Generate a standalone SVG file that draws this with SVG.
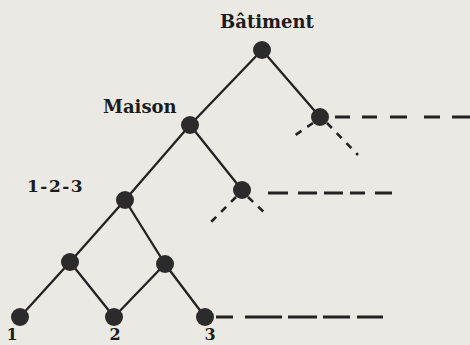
<svg xmlns="http://www.w3.org/2000/svg" width="470" height="345" viewBox="0 0 470 345">
<style>
.bg{fill:#ebe9e3}
.lbl{font-family:"DejaVu Serif","Liberation Serif",serif;font-weight:bold;font-size:18px;fill:#1c1c1c}
.num{font-size:17px}
.leaf{font-size:16px}
.node{fill:#2b2b2b}
.edge{stroke:#222;stroke-width:2.3;fill:none;stroke-linecap:round}
.dash{stroke:#222;stroke-width:2.6;fill:none;stroke-dasharray:7 7}
.hdash{stroke:#222;stroke-width:3;fill:none}
</style>
<rect class="bg" x="0" y="0" width="470" height="345"/>
<g id="connectors">
<line class="edge" x1="262" y1="50" x2="190" y2="125"/>
<line class="edge" x1="262" y1="50" x2="320" y2="117"/>
<line class="edge" x1="190" y1="125" x2="125" y2="200"/>
<line class="edge" x1="190" y1="125" x2="242" y2="190"/>
<line class="edge" x1="125" y1="200" x2="70" y2="262"/>
<line class="edge" x1="125" y1="200" x2="165" y2="264"/>
<line class="edge" x1="70" y1="262" x2="20" y2="317"/>
<line class="edge" x1="70" y1="262" x2="114" y2="317"/>
<line class="edge" x1="165" y1="264" x2="114" y2="317"/>
<line class="edge" x1="165" y1="264" x2="205" y2="317"/>
<line class="dash" x1="313" y1="123" x2="291" y2="138"/>
<line class="dash" x1="327" y1="123" x2="358" y2="155"/>
<line class="dash" x1="236" y1="197" x2="210" y2="223"/>
<line class="dash" x1="248" y1="197" x2="268" y2="216"/>
<path class="hdash" d="M335 117H350M362 117H377M390 117H407M424 117H440M452 117H470"/>
<path class="hdash" d="M268 193H288M298 193H317M324 193H343M350 193H365M375 193H392"/>
<path class="hdash" d="M216 317H233M245 317H282M288 317H317M323 317H350M357 317H383"/>
</g>
<g id="n-batiment"><circle class="node" cx="262" cy="50" r="9"/><text class="lbl" x="220" y="28">Bâtiment</text></g>
<g id="n-maison"><circle class="node" cx="190" cy="125" r="9"/><text class="lbl" x="103" y="113">Maison</text></g>
<g id="n-right"><circle class="node" cx="320" cy="117" r="9"/></g>
<g id="n-mid"><circle class="node" cx="242" cy="190" r="9"/></g>
<g id="n-123"><circle class="node" cx="125" cy="200" r="9"/><text class="lbl num" x="27" y="192" letter-spacing="1.5">1-2-3</text></g>
<g id="n-a"><circle class="node" cx="70" cy="262" r="9"/></g>
<g id="n-b"><circle class="node" cx="165" cy="264" r="9"/></g>
<g id="n-1"><circle class="node" cx="20" cy="317" r="9"/><text class="lbl leaf" x="12" y="340" text-anchor="middle">1</text></g>
<g id="n-2"><circle class="node" cx="114" cy="317" r="9"/><text class="lbl leaf" x="115" y="340" text-anchor="middle">2</text></g>
<g id="n-3"><circle class="node" cx="205" cy="317" r="9"/><text class="lbl leaf" x="210" y="340" text-anchor="middle">3</text></g>
</svg>
